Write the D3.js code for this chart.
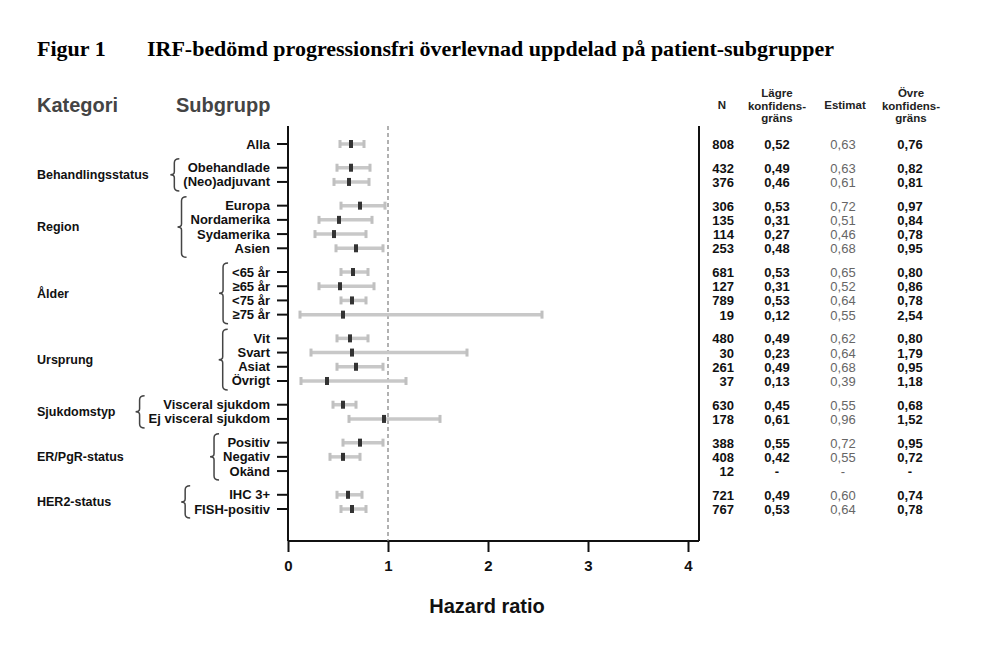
<!DOCTYPE html>
<html>
<head>
<meta charset="utf-8">
<script src="https://cdn.jsdelivr.net/npm/d3@7"></script>
<style>
  body { margin: 0; background: #fff; }
  svg text { font-family: "Liberation Sans", Arial, sans-serif; }
</style>
</head>
<body>
<svg id="chart" width="993" height="651"></svg>
<script>
// kategorier och subgrupper
const groups = ["", "Behandlingsstatus", "Region", "Ålder", "Ursprung", "Sjukdomstyp", "ER/PgR-status", "HER2-status"];
const subgroups = ["Alla", "Obehandlade", "(Neo)adjuvant", "Europa", "Nordamerika", "Sydamerika", "Asien",
  "<65 år", "≥65 år", "<75 år", "≥75 år", "Vit", "Svart", "Asiat", "Övrigt",
  "Visceral sjukdom", "Ej visceral sjukdom", "Positiv", "Negativ", "Okänd", "IHC 3+", "FISH-positiv"];
const groupOf = [0, 1, 1, 2, 2, 2, 2, 3, 3, 3, 3, 4, 4, 4, 4, 5, 5, 6, 6, 6, 7, 7];
const nValues = [808, 432, 376, 306, 135, 114, 253, 681, 127, 789, 19, 480, 30, 261, 37, 630, 178, 388, 408, 12, 721, 767];
const lowerCI = [0.52, 0.49, 0.46, 0.53, 0.31, 0.27, 0.48, 0.53, 0.31, 0.53, 0.12, 0.49, 0.23, 0.49, 0.13, 0.45, 0.61, 0.55, 0.42, null, 0.49, 0.53];
const estimates = [0.63, 0.63, 0.61, 0.72, 0.51, 0.46, 0.68, 0.65, 0.52, 0.64, 0.55, 0.62, 0.64, 0.68, 0.39, 0.55, 0.96, 0.72, 0.55, null, 0.60, 0.64];
const upperCI = [0.76, 0.82, 0.81, 0.97, 0.84, 0.78, 0.95, 0.80, 0.86, 0.78, 2.54, 0.80, 1.79, 0.95, 1.18, 0.68, 1.52, 0.95, 0.72, null, 0.74, 0.78];
const xTicks = [0, 1, 2, 3, 4];

const svg = d3.select("#chart");
const sv = d3.formatLocale({ decimal: ",", thousands: " ", grouping: [3], currency: ["", " kr"] });
const fmt = v => v == null ? "-" : sv.format(".2f")(v);

const plotTop = 126, plotBottom = 541, plotLeft = 288, plotRight = 699;
const gapRatio = 0.67;
const slot = i => i + groupOf[i] * gapRatio;

const x = d3.scaleLinear().domain([0, 4.11]).range([plotLeft, plotRight]);
const y = d3.scaleLinear().domain([0, slot(subgroups.length - 1)]).range([144, 509]);

// titel
svg.append("text").attr("x", 37).attr("y", 56)
  .style("font-family", "'Liberation Serif', 'Times New Roman', serif")
  .attr("font-weight", "bold").attr("font-size", 22).text("Figur 1");
svg.append("text").attr("x", 147).attr("y", 56)
  .style("font-family", "'Liberation Serif', 'Times New Roman', serif")
  .attr("font-weight", "bold").attr("font-size", 22).attr("textLength", 687)
  .text("IRF-bedömd progressionsfri överlevnad uppdelad på patient-subgrupper");

// rubriker
svg.append("text").attr("x", 37).attr("y", 112).attr("font-size", 20).attr("font-weight", "bold")
  .attr("fill", "#444").text("Kategori");
svg.append("text").attr("x", 176).attr("y", 112).attr("font-size", 20).attr("font-weight", "bold")
  .attr("fill", "#444").text("Subgrupp");

// ram
svg.append("line").attr("x1", plotLeft).attr("x2", plotLeft).attr("y1", plotTop).attr("y2", plotBottom)
  .attr("stroke", "#111").attr("stroke-width", 2);
svg.append("line").attr("x1", plotRight).attr("x2", plotRight).attr("y1", plotTop).attr("y2", plotBottom)
  .attr("stroke", "#111").attr("stroke-width", 2);

// x-axel
const xAxis = svg.append("g").attr("transform", `translate(0,${plotBottom})`)
  .call(d3.axisBottom(x).tickValues(xTicks).tickSize(11).tickPadding(8).tickFormat(d3.format("d")));
xAxis.select(".domain").attr("d", `M${plotLeft},0H${plotRight}`).attr("stroke", "#111").attr("stroke-width", 2);
xAxis.selectAll(".tick line").attr("stroke", "#111").attr("stroke-width", 2);
xAxis.selectAll(".tick text").attr("font-size", 15).attr("font-weight", "bold").attr("fill", "#111")
  .style("font-family", "'Liberation Sans', Arial, sans-serif");

svg.append("text").attr("x", 487).attr("y", 613).attr("text-anchor", "middle")
  .attr("font-size", 20).attr("font-weight", "bold").attr("fill", "#111").text("Hazard ratio");

// referenslinje vid 1
svg.append("line").attr("x1", x(1)).attr("x2", x(1)).attr("y1", plotTop).attr("y2", plotBottom)
  .attr("stroke", "#888").attr("stroke-width", 1.3).attr("stroke-dasharray", "4,3");

// subgrupper: etikett + tick
const rows = svg.append("g");
const labels = [];
subgroups.forEach((s, i) => {
  const yy = y(slot(i));
  rows.append("line").attr("x1", 277).attr("x2", plotLeft).attr("y1", yy).attr("y2", yy)
    .attr("stroke", "#111").attr("stroke-width", 2);
  const t = rows.append("text").attr("x", 270).attr("y", yy + 4.5).attr("text-anchor", "end")
    .attr("font-size", 13).attr("font-weight", "bold").attr("fill", "#111").text(s);
  labels.push(t);
});

// konfidensintervall
subgroups.forEach((s, i) => {
  if (estimates[i] == null) return;
  const yy = y(slot(i));
  rows.append("line").attr("x1", x(lowerCI[i])).attr("x2", x(upperCI[i])).attr("y1", yy).attr("y2", yy)
    .attr("stroke", "#c8c8c8").attr("stroke-width", 3.5);
  [lowerCI[i], upperCI[i]].forEach(v => {
    rows.append("rect").attr("x", x(v) - 1.5).attr("y", yy - 4).attr("width", 3).attr("height", 8)
      .attr("fill", "#c0c0c0");
  });
  rows.append("rect").attr("x", x(estimates[i]) - 2).attr("y", yy - 4).attr("width", 4).attr("height", 8)
    .attr("fill", "#333");
});

// kategorier med klammer
groups.forEach((g, gi) => {
  if (!g) return;
  const idx = d3.range(subgroups.length).filter(i => groupOf[i] === gi);
  const y0 = y(slot(idx[0])) - 9, y1 = y(slot(idx[idx.length - 1])) + 9, ym = (y0 + y1) / 2;
  const minLeft = d3.min(idx, i => 270 - labels[i].node().getComputedTextLength());
  const bx = minLeft - 4, vx = bx - 5;
  svg.append("path")
    .attr("d", `M${bx},${y0} Q${vx},${y0} ${vx},${y0 + 4} L${vx},${ym - 3} Q${vx},${ym} ${vx - 4},${ym} ` +
      `Q${vx},${ym} ${vx},${ym + 3} L${vx},${y1 - 4} Q${vx},${y1} ${bx},${y1}`)
    .attr("fill", "none").attr("stroke", "#444").attr("stroke-width", 1.5);
  svg.append("text").attr("x", 37).attr("y", ym + 4.5).attr("font-size", 12.5).attr("font-weight", "bold")
    .attr("fill", "#111").text(g);
});

// tabell
const headers = [
  { cx: 722, lines: ["N"] },
  { cx: 777, lines: ["Lägre", "konfidens-", "gräns"] },
  { cx: 845, lines: ["Estimat"] },
  { cx: 911, lines: ["Övre", "konfidens-", "gräns"] }
];
headers.forEach(h => {
  const start = h.lines.length === 1 ? 109 : 97;
  h.lines.forEach((l, k) => {
    svg.append("text").attr("x", h.cx).attr("y", start + k * 12.5).attr("text-anchor", "middle")
      .attr("font-size", 11.5).attr("font-weight", "bold").attr("fill", "#222").text(l);
  });
});

const table = svg.append("g");
subgroups.forEach((s, i) => {
  const yy = y(slot(i)) + 5;
  table.append("text").attr("x", 734).attr("y", yy).attr("text-anchor", "end")
    .attr("font-size", 13).attr("font-weight", "bold").attr("fill", "#111").text(nValues[i]);
  table.append("text").attr("x", 777).attr("y", yy).attr("text-anchor", "middle")
    .attr("font-size", 13).attr("font-weight", "bold").attr("fill", "#111").text(fmt(lowerCI[i]));
  table.append("text").attr("x", 843).attr("y", yy).attr("text-anchor", "middle")
    .attr("font-size", 13).attr("fill", "#666").text(fmt(estimates[i]));
  table.append("text").attr("x", 910).attr("y", yy).attr("text-anchor", "middle")
    .attr("font-size", 13).attr("font-weight", "bold").attr("fill", "#111").text(fmt(upperCI[i]));
});
</script>
</body>
</html>
